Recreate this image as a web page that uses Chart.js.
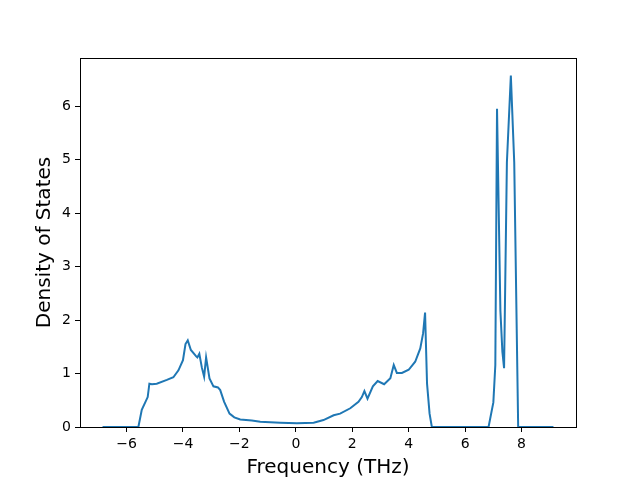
<!DOCTYPE html>
<html>
<head>
<meta charset="utf-8">
<script src="https://cdn.jsdelivr.net/npm/chart.js@4.4.1/dist/chart.umd.min.js"></script>
<style>
  html, body { margin: 0; padding: 0; background: #fff; }
  #wrap { width: 640px; height: 480px; }
</style>
</head>
<body>
<div id="wrap"><canvas id="dosChart" width="640" height="480"></canvas></div>
<script>
// phonon DOS
const freq = [-6.85, -5.58, -5.46, -5.25, -5.19, -5.10, -4.93, -4.57, -4.34, -4.16, -4.00, -3.91, -3.83, -3.72,
  -3.53, -3.49, -3.42, -3.33, -3.25, -3.18, -3.06, -2.92, -2.76, -2.68, -2.54, -2.35, -2.18, -1.97,
  -1.56, -1.26, -0.91, -0.55, 0.04, 0.63, 0.98, 1.34, 1.57, 1.93, 2.22, 2.34, 2.43, 2.54, 2.73, 2.90,
  3.13, 3.35, 3.47, 3.58, 3.76, 4.00, 4.23, 4.41, 4.51, 4.58, 4.65, 4.74, 4.82, 6.83, 7.00, 7.07,
  7.13, 7.25, 7.32, 7.38, 7.48, 7.62, 7.74, 7.88, 9.13];
const dos = [0, 0, 0.32, 0.56, 0.81, 0.80, 0.81, 0.88, 0.93, 1.06, 1.25, 1.55, 1.62, 1.44,
  1.32, 1.30, 1.37, 1.11, 0.94, 1.30, 0.91, 0.76, 0.74, 0.69, 0.47, 0.25, 0.18, 0.14,
  0.12, 0.10, 0.09, 0.08, 0.07, 0.08, 0.13, 0.22, 0.25, 0.35, 0.47, 0.56, 0.67, 0.53, 0.76, 0.86,
  0.80, 0.91, 1.16, 1.01, 1.01, 1.07, 1.22, 1.47, 1.75, 2.14, 0.81, 0.25, 0, 0, 0.46, 1.16,
  5.95, 2.17, 1.41, 1.10, 4.95, 6.57, 4.95, 0, 0];
const xTicks = [-6, -4, -2, 0, 2, 4, 6, 8];
const yTicks = [0, 1, 2, 3, 4, 5, 6];

const xSpan = Math.max(...freq) - Math.min(...freq);
const xMin = Math.min(...freq) - 0.05 * xSpan;
const xMax = Math.max(...freq) + 0.05 * xSpan;
const yMax = Math.max(...dos) * 1.05;

const minus = v => String(v).replace('-', '\u2212');

// matplotlib style box around the axes
const frame = {
  id: 'frame',
  afterDraw(chart) {
    const { ctx, chartArea: a } = chart;
    ctx.save();
    ctx.strokeStyle = '#000';
    ctx.lineWidth = 1;
    ctx.strokeRect(Math.round(a.left) + 0.5, Math.round(a.top) + 0.5,
      Math.round(a.right - a.left), Math.round(a.bottom - a.top));
    ctx.restore();
  }
};

new Chart(document.getElementById('dosChart'), {
  type: 'line',
  data: {
    datasets: [{
      data: freq.map((f, i) => ({ x: f, y: dos[i] })),
      borderColor: '#1f77b4',
      borderWidth: 2,
      pointRadius: 0,
      fill: false,
      tension: 0
    }]
  },
  options: {
    responsive: false,
    animation: false,
    layout: { padding: { left: 33, right: 64, top: 58, bottom: 0 } },
    plugins: { legend: { display: false }, tooltip: { enabled: false } },
    scales: {
      x: {
        type: 'linear',
        min: xMin,
        max: xMax,
        afterBuildTicks: s => { s.ticks = xTicks.map(v => ({ value: v })); },
        afterFit: s => { s.height = 53; },
        grid: { drawOnChartArea: false, tickLength: 5, color: '#000', tickColor: '#000' },
        border: { color: '#000' },
        ticks: {
          color: '#000',
          padding: 4,
          font: { family: 'DejaVu Sans', size: 14 },
          callback: v => minus(v)
        },
        title: {
          display: true,
          text: 'Frequency (THz)',
          color: '#000',
          padding: { top: 2, bottom: 0 },
          font: { family: 'DejaVu Sans', size: 20 }
        }
      },
      y: {
        min: 0,
        max: yMax,
        afterBuildTicks: s => { s.ticks = yTicks.map(v => ({ value: v })); },
        afterFit: s => { s.width = 47; },
        grid: { drawOnChartArea: false, tickLength: 5, color: '#000', tickColor: '#000' },
        border: { color: '#000' },
        ticks: {
          color: '#000',
          padding: 4,
          font: { family: 'DejaVu Sans', size: 14 },
          callback: v => minus(v)
        },
        title: {
          display: true,
          text: 'Density of States',
          color: '#000',
          padding: { top: 0, bottom: 6 },
          font: { family: 'DejaVu Sans', size: 20 }
        }
      }
    }
  },
  plugins: [frame]
});
</script>
</body>
</html>
